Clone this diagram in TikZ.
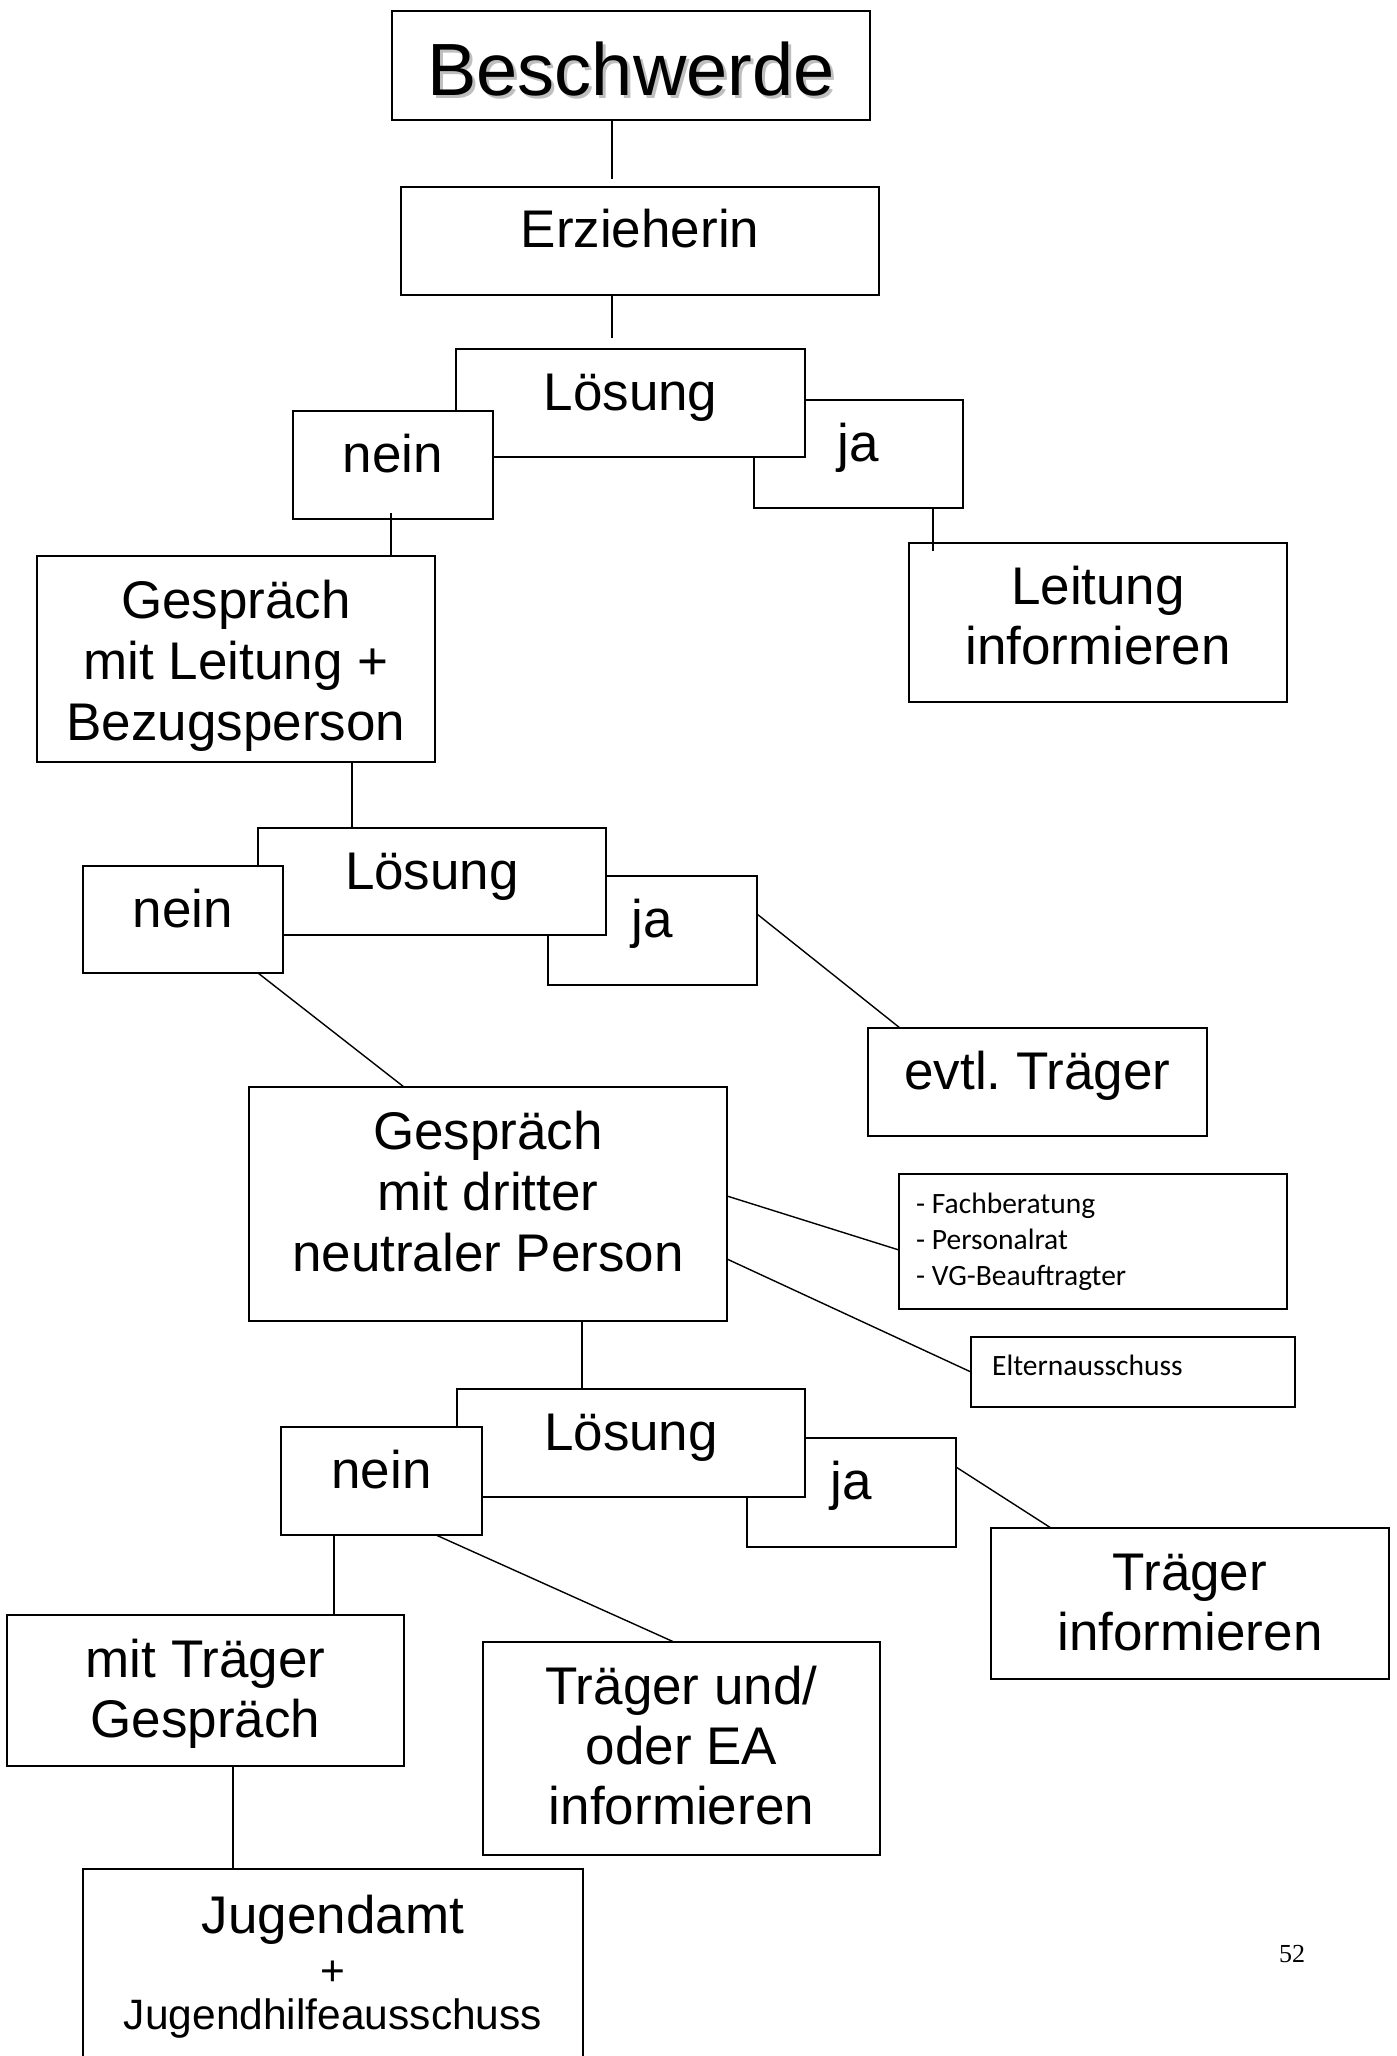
\documentclass[tikz,border=0pt]{standalone}
\usepackage{fontspec}
\setmainfont{Liberation Sans}
\newfontfamily\calfont{Carlito}
\newfontfamily\serfont{Liberation Serif}
\newcommand\mkbox[5]{\node[box, minimum width={#4-#2}, minimum height={#5-#3}] (#1) at ({(#2+#4)/2},{(#3+#5)/2}) {};}
\begin{document}
\begin{tikzpicture}[x=1pt,y=-1pt,
  box/.style={draw=black, line width=1.8pt, fill=white, rectangle, inner sep=0pt, outer sep=0pt},
  lbl/.style={font=\fontsize{53}{61}\selectfont, align=center, anchor=base, inner sep=0pt},
  small/.style={font=\calfont\fontsize{29.5}{36}\selectfont, align=left, anchor=base west, inner sep=0pt},
  conn/.style={line width=1.4pt, draw=black}]
\clip (0,0) rectangle (1397,2056);
\fill[white] (0,0) rectangle (1397,2056);

% boxes
\mkbox{besch}{392}{11}{870}{120}
\mkbox{erz}{401}{187}{879}{295}
\mkbox{ja1}{754}{400}{963}{508}
\mkbox{los1}{456}{349}{805}{457}
\mkbox{nein1}{293}{411}{493}{519}
\mkbox{leit}{909}{543}{1287}{702}
\mkbox{gesp1}{37}{556}{435}{762}
\mkbox{ja2}{548}{876}{757}{985}
\mkbox{los2}{258}{828}{606}{935}
\mkbox{nein2}{83}{866}{283}{973}
\mkbox{evtl}{868}{1028}{1207}{1136}
\mkbox{gesp2}{249}{1087}{727}{1321}
\mkbox{fach}{899}{1174}{1287}{1309}
\mkbox{eltern}{971}{1337}{1295}{1407}
\mkbox{ja3}{747}{1438}{956}{1547}
\mkbox{los3}{457}{1389}{805}{1497}
\mkbox{nein3}{281}{1427}{482}{1535}
\mkbox{trinf}{991}{1528}{1389}{1679}
\mkbox{mitT}{7}{1615}{404}{1766}
\mkbox{tue}{483}{1642}{880}{1855}
\mkbox{jug}{83}{1869}{583}{2090}

% texts (anchor base = baseline of the last line)
\node[font=\fontsize{74}{80}\selectfont, anchor=base, inner sep=0pt, text=black!25] (besch-s) at ([xshift=3pt,yshift=-87pt]besch.north) {Beschwerde};
\node[font=\fontsize{74}{80}\selectfont, anchor=base, inner sep=0pt] (besch-t) at ([yshift=-84pt]besch.north) {Beschwerde};
\node[lbl] (erz-t) at ([yshift=-60pt]erz.north) {Erzieherin};
\node[lbl] (los1-t) at ([yshift=-61pt]los1.north) {Lösung};
\node[lbl] (nein1-t) at ([yshift=-61pt]nein1.north) {nein};
\node[lbl] (ja1-t) at ([yshift=-61pt]ja1.north) {ja};
\node[lbl, font=\fontsize{53}{60}\selectfont] (leit-t) at ([yshift=-121pt]leit.north) {Leitung\\informieren};
\node[lbl] (gesp1-t) at ([yshift=-184pt]gesp1.north) {Gespräch\\mit Leitung +\\Bezugsperson};
\node[lbl] (los2-t) at ([yshift=-61pt]los2.north) {Lösung};
\node[lbl] (nein2-t) at ([yshift=-61pt]nein2.north) {nein};
\node[lbl] (ja2-t) at ([yshift=-61pt]ja2.north) {ja};
\node[lbl] (evtl-t) at ([yshift=-61pt]evtl.north) {evtl.\ Träger};
\node[lbl] (gesp2-t) at ([yshift=-184pt]gesp2.north) {Gespräch\\mit dritter\\neutraler Person};
\node[small] (fach-t) at (916,1285) {- Fachberatung\\- Personalrat\\- VG-Beauftragter};
\node[small] (eltern-t) at (992,1375) {Elternausschuss};
\node[lbl] (los3-t) at ([yshift=-61pt]los3.north) {Lösung};
\node[lbl] (nein3-t) at ([yshift=-61pt]nein3.north) {nein};
\node[lbl] (ja3-t) at ([yshift=-61pt]ja3.north) {ja};
\node[lbl, font=\fontsize{53}{60}\selectfont] (trinf-t) at ([yshift=-122pt]trinf.north) {Träger\\informieren};
\node[lbl, font=\fontsize{53}{60}\selectfont] (mitT-t) at ([yshift=-122pt]mitT.north) {mit Träger\\Gespräch};
\node[lbl, font=\fontsize{53}{60}\selectfont] (tue-t) at ([yshift=-182pt]tue.north) {Träger und/\\oder EA\\informieren};
\node[lbl, font=\fontsize{42.5}{50}\selectfont] (jug-t) at ([yshift=-160pt]jug.north) {{\fontsize{53}{61}\selectfont Jugendamt}\\[2pt]+\\[-6pt]Jugendhilfeausschuss};
\node[font=\serfont\fontsize{26}{30}\selectfont, anchor=base, inner sep=0pt] (page) at (1292,1962) {52};

% connectors
\draw[conn] ([xshift=-19pt]besch.south) -- ([xshift=-28pt,yshift=8pt]erz.north);
\draw[conn] ([xshift=-28pt]erz.south) -- ([xshift=-18.5pt,yshift=11pt]los1.north);
\draw[conn] ([xshift=-2pt,yshift=6pt]nein1.south) -- ([xshift=155pt]gesp1.north);
\draw[conn] ([xshift=74.5pt]ja1.south) -- ([xshift=-165pt,yshift=-8pt]leit.north);
\draw[conn] ([xshift=116pt]gesp1.south) -- ([xshift=-80pt]los2.north);
\draw[conn] ([yshift=16.5pt]ja2.east) -- ([xshift=-137.5pt]evtl.north);
\draw[conn] ([xshift=75pt]nein2.south) -- ([xshift=-84pt]gesp2.north);
\draw[conn] ([yshift=8pt]gesp2.east) -- ([yshift=-8.5pt]fach.west);
\draw[conn] ([yshift=-55pt]gesp2.east) -- (eltern.west);
\draw[conn] ([xshift=94pt]gesp2.south) -- ([xshift=-49pt]los3.north);
\draw[conn] ([yshift=25.5pt]ja3.east) -- ([xshift=-139pt]trinf.north);
\draw[conn] ([xshift=-47.5pt]nein3.south) -- ([xshift=128.5pt]mitT.north);
\draw[conn] ([xshift=54.5pt]nein3.south) -- ([xshift=-7.5pt]tue.north);
\draw[conn] ([xshift=27.5pt]mitT.south) -- ([xshift=-100pt]jug.north);
\end{tikzpicture}
\end{document}
